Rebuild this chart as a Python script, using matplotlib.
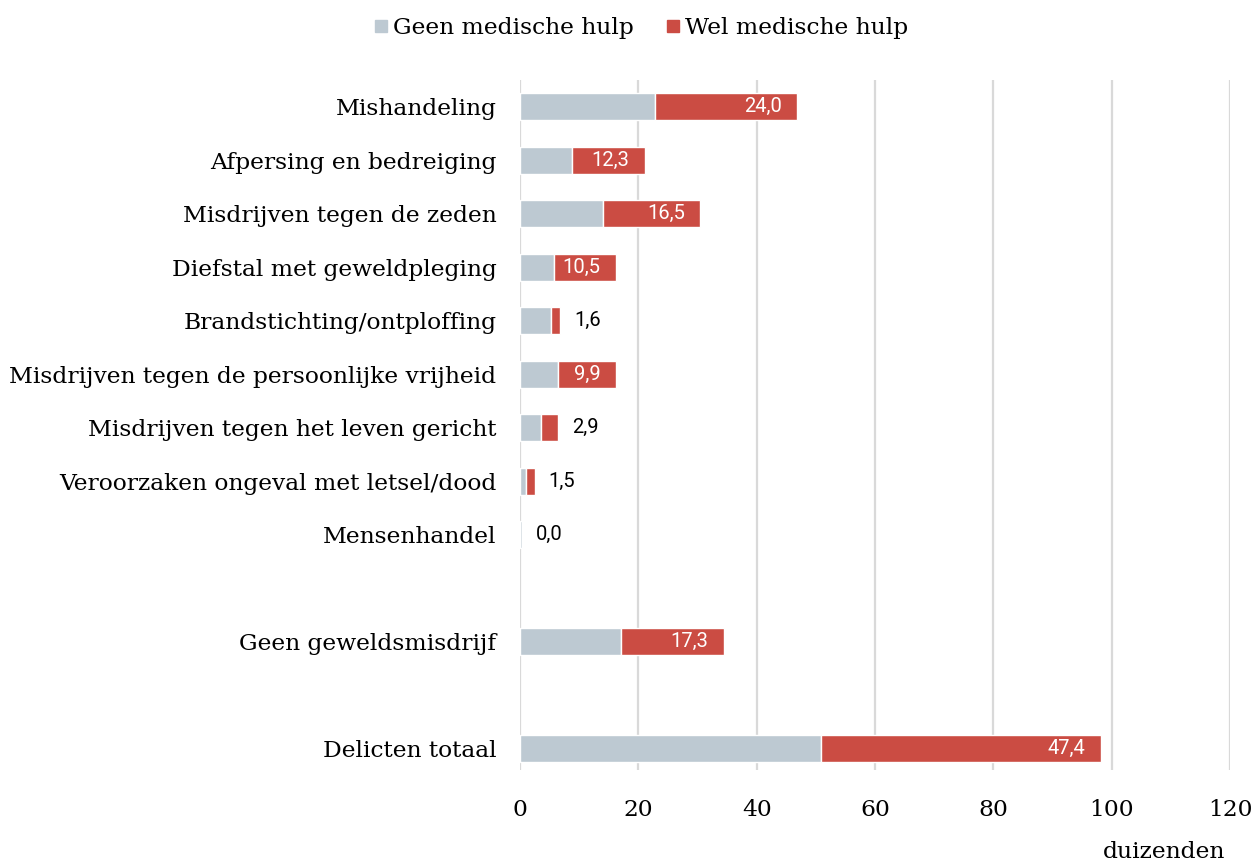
import matplotlib
matplotlib.use("Agg")
import matplotlib.pyplot as plt
from matplotlib.lines import Line2D

categories = [
    "Mishandeling",
    "Afpersing en bedreiging",
    "Misdrijven tegen de zeden",
    "Diefstal met geweldpleging",
    "Brandstichting/ontploffing",
    "Misdrijven tegen de persoonlijke vrijheid",
    "Misdrijven tegen het leven gericht",
    "Veroorzaken ongeval met letsel/dood",
    "Mensenhandel",
    "Geen geweldsmisdrijf",
    "Delicten totaal",
]
positions = [0, 1, 2, 3, 4, 5, 6, 7, 8, 10, 12]
geen_hulp = [22.8, 8.8, 14.0, 5.7, 5.2, 6.4, 3.5, 1.0, 0.4, 17.1, 50.8]
wel_hulp = [24.0, 12.3, 16.5, 10.5, 1.6, 9.9, 2.9, 1.5, 0.0, 17.3, 47.4]
xticks = [0, 20, 40, 60, 80, 100, 120]
series_names = ["Geen medische hulp", "Wel medische hulp"]

GREY = "#BDC9D2"
RED = "#CB4C43"
SERIF = ["DejaVu Serif"]
FS = 16.8

fig = plt.figure(figsize=(12.52, 8.63), dpi=100)
ax = fig.add_axes([520 / 1252, 1 - 770 / 863, (1230 - 520) / 1252, (770 - 80) / 863])

ax.barh(positions, geen_hulp, height=0.5, color=GREY, edgecolor="white", linewidth=1.0, zorder=3)
ax.barh(positions, wel_hulp, left=geen_hulp, height=0.5, color=RED, edgecolor="white", linewidth=1.0, zorder=3)

for p, g, w in zip(positions, geen_hulp, wel_hulp):
    label = f"{w:.1f}".replace(".", ",")
    end = g + w
    if w >= 5:
        ax.annotate(label, xy=(end, p), xytext=(-11, 0), textcoords="offset points",
                    ha="right", va="center", color="white", fontsize=14.5,
                    family="Roboto", zorder=4)
    else:
        ax.annotate(label, xy=(end, p), xytext=(10, 0), textcoords="offset points",
                    ha="left", va="center", color="black", fontsize=14.5,
                    family="Roboto", zorder=4)

ax.set_xlim(0, 120)
ax.set_ylim(12.4, -0.5)
ax.set_xticks(xticks)
ax.set_xticklabels([str(t) for t in xticks], family=SERIF, fontsize=FS)
ax.set_yticks(positions)
ax.set_yticklabels(categories, family=SERIF, fontsize=FS)
ax.tick_params(axis="both", length=0)
ax.tick_params(axis="x", pad=21)
ax.tick_params(axis="y", pad=17)
for s in ax.spines.values():
    s.set_visible(False)
ax.grid(axis="x", color="#D9D9D9", linewidth=1.6, zorder=0)
ax.set_axisbelow(True)

fig.text(1225 / 1252, 1 - 852 / 863, "duizenden", ha="right", va="center",
         family=SERIF, fontsize=FS)

handles = [
    Line2D([], [], marker="s", linestyle="none", color=GREY, markersize=8.5),
    Line2D([], [], marker="s", linestyle="none", color=RED, markersize=8.5),
]
fig.legend(handles, series_names, loc="center", bbox_to_anchor=(0.510, 1 - 28 / 863),
           ncol=2, frameon=False, prop={"family": SERIF, "size": FS},
           handletextpad=0.0, columnspacing=1.2, handlelength=1.0)

fig.savefig("out.png", dpi=100)
